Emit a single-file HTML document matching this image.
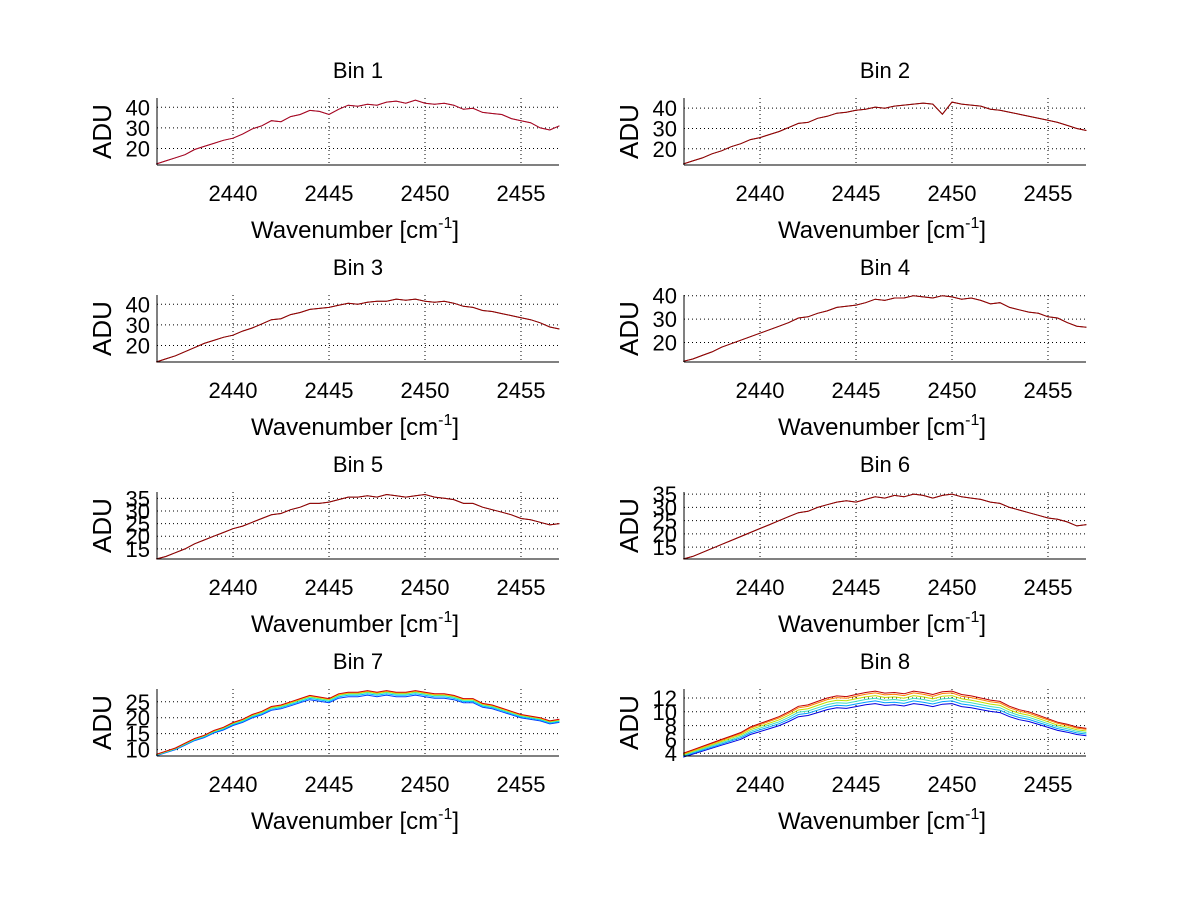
<!DOCTYPE html>
<html><head><meta charset="utf-8"><style>
body{margin:0;background:#fff}
svg{display:block;font-family:"Liberation Sans",sans-serif}
</style></head><body>
<svg id="fig" width="1200" height="901" viewBox="0 0 1200 901"></svg>
<script>
const wnStart=2436, wnStep=0.5;
const xTicks=[2440,2445,2450,2455];
const bin1=[12.5,14,15.5,17,19.5,21,22.5,24,25,27,29.5,31,33.5,33,35.5,36.5,38.5,38,36.5,39,41,40.5,41.5,41,42.5,43,42,43.5,42,41.5,42,41,39,39.5,37.5,37,36.5,34.5,33.5,32.5,30,29,31];
const bin2=[12.5,14,15.5,17.5,19,21,22.5,24.5,25.5,27,28.5,30.5,32.5,33,35,36,37.5,38,39,39.5,40.5,40,41,41.5,42,42.5,42,37,43,42,41.5,41,39.5,39,38,37,36,35,34,33,31.5,30,29];
const bin3=[12,13.5,15,17,19,21,22.5,24,25,27,28.5,30.5,32.5,33,35,36,37.5,38,38.5,39.5,40.5,40,41,41.5,41.5,42.5,42,42.5,41.5,41,41.5,40.5,39,38.5,37,36.5,35.5,34.5,33.5,32.5,31,29,28];
const bin4=[12,13,14.5,16,18,19.5,21,22.5,24,25.5,27,28.5,30.5,31,32.5,33.5,35,35.5,36,37,38.5,38,39,39,40,39.5,39,40,39.5,38.5,39,38,36.5,37,35,34,33,32.5,31,30.5,28.5,27,26.5];
const bin5=[11,12,13.5,15,17,18.5,20,21.5,23,24,25.5,27,28.5,29,30.5,31.5,33,33,33.5,34.5,35.5,35.5,36,35.5,36.5,36,35.5,36,36.5,35.5,35,34.5,33,33,31.5,30.5,29.5,28.5,27,26.5,25.5,24.5,25];
const bin6=[10.5,11.5,13,14.5,16,17.5,19,20.5,22,23.5,25,26.5,28,28.5,30,31,32,32.5,32,33,34,33.5,34.5,34,35,34.5,33.5,34.5,35,34,33.5,33,32,31.5,30,29,28,27,26,25.5,24.5,23,23.5];
const bin7=[8.5,9.5,10.5,12,13.5,14.5,16,17,18.5,19.5,21,22,23.5,24,25,26,27,26.5,26,27.5,28,28,28.5,28,28.5,28,28,28.5,28,27.5,27.5,27,26,26,24.5,24,23,22,21,20.5,20,19,19.5];
const bin8=[4,4.5,5,5.5,6,6.5,7,7.8,8.3,8.8,9.3,10,10.8,11,11.5,12,12.3,12.2,12.5,12.8,13,12.7,12.8,12.6,13,12.8,12.5,12.9,13,12.5,12.3,12,11.7,11.5,10.8,10.3,10,9.5,9,8.5,8.2,7.8,7.6];
const gains7=[0.95,0.965,0.98,0.99,1.0];
const gains8=[0.86,0.89,0.92,0.95,0.98,1.0];
const colors7=["#0040ff","#00c0ff","#40ff80","#ffc000","#d00000"];
const colors8=["#0000e0","#00a0ff","#40e0c0","#c0e000","#ff8000","#c00000"];
const bins=[bin1,bin2,bin3,bin4,bin5,bin6,bin7,bin8];
const yRanges=[[12,44.5],[12,45],[12,44.5],[11.7,40.3],[11,37.5],[10.5,35.8],[8,29],[3.6,13.3]];
const yTicks=[[20,30,40],[20,30,40],[20,30,40],[20,30,40],[15,20,25,30,35],[15,20,25,30,35],[10,15,20,25],[4,6,8,10,12]];
const xMin=2436.04,xMax=2456.98;
const NS="http://www.w3.org/2000/svg";
const svg=document.getElementById('fig');
function mk(tag,attrs,parent){const e=document.createElementNS(NS,tag);for(const k in attrs)e.setAttribute(k,attrs[k]);(parent||svg).appendChild(e);return e;}
for(let b=0;b<8;b++){
  const col=b%2,row=Math.floor(b/2);
  const L=col?684:157,R=col?1086:559,T=98+197*row,B=T+67;
  const [y0,y1]=yRanges[b];
  const sx=v=>L+(v-xMin)/(xMax-xMin)*(R-L);
  const sy=v=>B-(v-y0)/(y1-y0)*(B-T);
  const g=mk('g',{});
  
  
  const t=mk('text',{x:(L+R)/2,y:T-20,'font-size':22,'text-anchor':'middle'},g);t.textContent='Bin '+(b+1);
  
  xTicks.forEach(v=>{const x=sx(v);
    mk('line',{x1:x,x2:x,y1:T,y2:B,stroke:'#000','stroke-width':1,'stroke-dasharray':'1,3'},g);
    const tl=mk('text',{x:x,y:B+36,'font-size':22,'text-anchor':'middle'},g);tl.textContent=v;
    });
  yTicks[b].forEach(v=>{const y=sy(v);
    mk('line',{x1:L,x2:R,y1:y,y2:y,stroke:'#000','stroke-width':1,'stroke-dasharray':'1,3'},g);
    const tl=mk('text',{x:L-7,y:y+8,'font-size':22,'text-anchor':'end'},g);tl.textContent=v;
    });
  const data=bins[b];
  const pts=(arr,gain)=>arr.map((v,i)=>sx(wnStart+i*wnStep).toFixed(1)+','+sy(v*gain).toFixed(1)).join(' ');
  if(b===6||b===7){
    const gains=b===6?gains7:gains8, cols=b===6?colors7:colors8;
    gains.forEach((gn,i)=>{const p=mk('polyline',{points:pts(data,gn),fill:'none',stroke:cols[i],'stroke-width':1},g);
      });
  } else {
    const p0=mk('polyline',{points:pts(data,1),fill:'none',stroke:b===0?'#602080':'#000','stroke-width':1},g);
    
    const p=mk('polyline',{points:pts(data,1),fill:'none',stroke:'#c00000','stroke-width':1,'stroke-opacity':0.8},g);
    
  }
  mk('line',{x1:L,x2:L,y1:T,y2:B,stroke:'#000','stroke-width':1},g);
  mk('line',{x1:L,x2:R,y1:B,y2:B,stroke:'#000','stroke-width':1},g);
  const yl=mk('text',{x:0,y:0,'font-size':26,'text-anchor':'middle',transform:`translate(${L-46},${(T+B)/2}) rotate(-90)`},g);yl.textContent='ADU';
  
  const xl=mk('text',{x:(L+R)/2-3,y:B+73,'font-size':24,'text-anchor':'middle'},g);
  
  xl.appendChild(document.createTextNode('Wavenumber [cm'));
  const sup=mk('tspan',{dy:-10,'font-size':16},xl);sup.textContent='-1';
  const cl=mk('tspan',{dy:10},xl);cl.textContent=']';
}
</script>
</body></html>
